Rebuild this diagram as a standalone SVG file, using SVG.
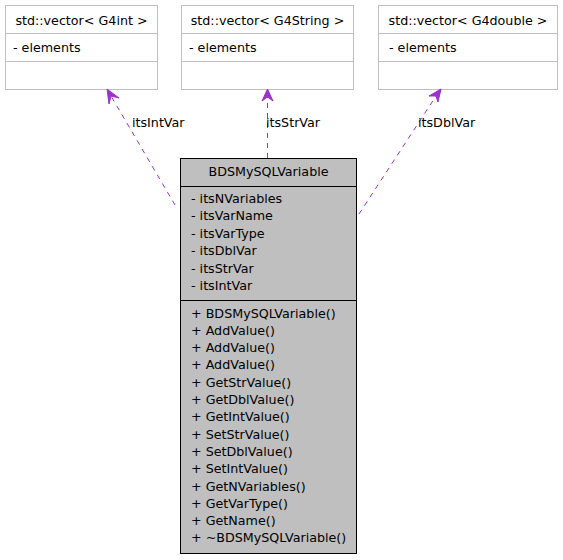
<svg xmlns="http://www.w3.org/2000/svg" width="563" height="560" viewBox="0 0 563 560">
<style>
text{font-family:"DejaVu Sans",sans-serif;font-size:12.7px;fill:#000}
.c{text-anchor:middle}
.ext rect{fill:#fff;stroke:#bfbfbf;stroke-width:1}
.ext line{stroke:#bfbfbf;stroke-width:1}
.main rect{fill:#bfbfbf;stroke:#000;stroke-width:1}
.main line{stroke:#000;stroke-width:1}
.edge{stroke:#9a32cd;stroke-width:1;stroke-dasharray:5,5;fill:none}
</style>
<rect width="563" height="560" fill="#fff"/>
<g id="vecInt" class="ext">
<rect x="5.5" y="5.5" width="152" height="84"/>
<line x1="5.5" y1="33.5" x2="157.5" y2="33.5"/>
<line x1="5.5" y1="61.5" x2="157.5" y2="61.5"/>
<text x="81.5" y="24.5" class="c">std::vector&lt; G4int &gt;</text>
<text x="13" y="51.5">- elements</text>
</g>
<g id="vecStr" class="ext">
<rect x="181.5" y="5.5" width="172" height="84"/>
<line x1="181.5" y1="33.5" x2="353.5" y2="33.5"/>
<line x1="181.5" y1="61.5" x2="353.5" y2="61.5"/>
<text x="267.5" y="24.5" class="c">std::vector&lt; G4String &gt;</text>
<text x="189" y="51.5">- elements</text>
</g>
<g id="vecDbl" class="ext">
<rect x="378.5" y="5.5" width="179" height="84"/>
<line x1="378.5" y1="33.5" x2="557.5" y2="33.5"/>
<line x1="378.5" y1="61.5" x2="557.5" y2="61.5"/>
<text x="468" y="24.5" class="c">std::vector&lt; G4double &gt;</text>
<text x="389" y="51.5">- elements</text>
</g>
<g id="edges">
<path class="edge" d="M175,205 L111,96"/>
<path d="M107,89 L119,98 L111,96 L109,104 Z" fill="#9a32cd" stroke="#9a32cd"/>
<text x="132" y="127">itsIntVar</text>
<path class="edge" d="M267.5,158 L267.5,97"/>
<path d="M267.5,89 L273,101 L267.5,97 L262,101 Z" fill="#9a32cd" stroke="#9a32cd"/>
<text x="266" y="127">itsStrVar</text>
<path class="edge" d="M359,214 L436,96"/>
<path d="M441,89 L438,102 L436,96 L429,96 Z" fill="#9a32cd" stroke="#9a32cd"/>
<text x="418" y="127">itsDblVar</text>
</g>
<g id="BDSMySQLVariable" class="main">
<rect x="180.5" y="158.5" width="176" height="395"/>
<line x1="180.5" y1="186.5" x2="356.5" y2="186.5"/>
<line x1="180.5" y1="300.5" x2="356.5" y2="300.5"/>
<text x="268.5" y="175.5" class="c">BDSMySQLVariable</text>
<text x="191" y="202.5">- itsNVariables</text>
<text x="191" y="220">- itsVarName</text>
<text x="191" y="237.5">- itsVarType</text>
<text x="191" y="255">- itsDblVar</text>
<text x="191" y="272.5">- itsStrVar</text>
<text x="191" y="290">- itsIntVar</text>
<text x="191" y="317.5">+ BDSMySQLVariable()</text>
<text x="191" y="334.8">+ AddValue()</text>
<text x="191" y="352.1">+ AddValue()</text>
<text x="191" y="369.4">+ AddValue()</text>
<text x="191" y="386.7">+ GetStrValue()</text>
<text x="191" y="404">+ GetDblValue()</text>
<text x="191" y="421.3">+ GetIntValue()</text>
<text x="191" y="438.6">+ SetStrValue()</text>
<text x="191" y="455.9">+ SetDblValue()</text>
<text x="191" y="473.2">+ SetIntValue()</text>
<text x="191" y="490.5">+ GetNVariables()</text>
<text x="191" y="507.8">+ GetVarType()</text>
<text x="191" y="525.1">+ GetName()</text>
<text x="191" y="542.4">+ ~BDSMySQLVariable()</text>
</g>
</svg>
